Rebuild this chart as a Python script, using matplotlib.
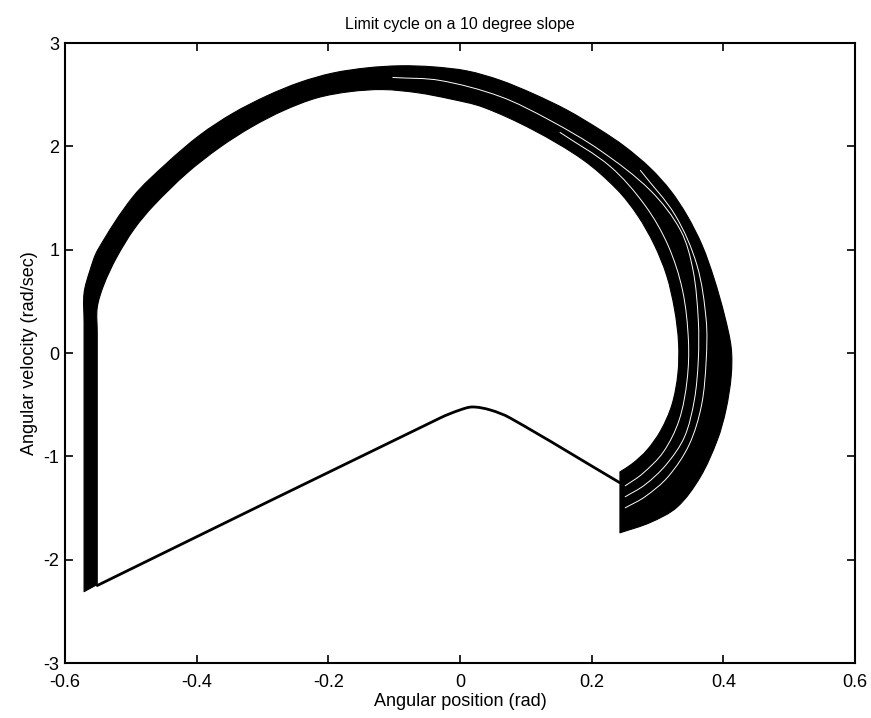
import numpy as np
import matplotlib
matplotlib.use("Agg")
import matplotlib.pyplot as plt
from matplotlib.patches import PathPatch
from matplotlib.path import Path

plt.rcParams['font.family'] = ['Liberation Sans', 'DejaVu Sans']

# Outer edge of the band of swing-phase trajectories (angle, angular velocity)
outer_theta = [-0.571, -0.571, -0.571, -0.562, -0.550, -0.497, -0.445, -0.395,
               -0.345, -0.293, -0.243, -0.193, -0.141, -0.091, -0.041, 0.011,
               0.061, 0.111, 0.163, 0.213, 0.250, 0.289, 0.320, 0.345, 0.368,
               0.386, 0.402, 0.412, 0.412, 0.404, 0.391, 0.365, 0.330, 0.289,
               0.243]
outer_omega = [-2.31, 0.30, 0.58, 0.80, 1.00, 1.51, 1.84, 2.11,
               2.32, 2.49, 2.62, 2.71, 2.76, 2.78, 2.77, 2.73,
               2.64, 2.51, 2.35, 2.16, 2.00, 1.79, 1.57, 1.33, 1.04,
               0.72, 0.36, 0.05, -0.22, -0.55, -0.84, -1.20, -1.49, -1.64,
               -1.74]

# Inner edge of the same band
inner_theta = [-0.551, -0.551, -0.551, -0.541, -0.522, -0.495, -0.465, -0.415,
               -0.365, -0.316, -0.267, -0.217, -0.167, -0.117, -0.065, -0.015,
               0.035, 0.111, 0.187, 0.239, 0.270, 0.295, 0.314, 0.326, 0.332,
               0.331, 0.322, 0.305, 0.284, 0.262, 0.243]
inner_omega = [-2.24, 0.20, 0.44, 0.66, 0.92, 1.20, 1.43, 1.74,
               1.99, 2.19, 2.35, 2.47, 2.53, 2.55, 2.52, 2.46,
               2.38, 2.16, 1.87, 1.58, 1.33, 1.05, 0.75, 0.42, 0.10,
               -0.20, -0.50, -0.75, -0.94, -1.07, -1.15]

# Gaps between neighbouring cycles inside the band
gap1_theta = [-0.102, -0.030, 0.061, 0.137, 0.213, 0.289, 0.335, 0.354, 0.362,
              0.362, 0.356, 0.341, 0.313, 0.281, 0.251]
gap1_omega = [2.667, 2.638, 2.483, 2.251, 1.961, 1.575, 1.188, 0.802, 0.319,
              -0.068, -0.454, -0.812, -1.082, -1.275, -1.391]
gap2_theta = [0.152, 0.228, 0.281, 0.316, 0.338, 0.347, 0.345, 0.333, 0.309,
              0.277, 0.251]
gap2_omega = [2.135, 1.807, 1.430, 1.043, 0.609, 0.126, -0.261, -0.647, -0.957,
              -1.169, -1.285]
gap3_theta = [0.274, 0.327, 0.360, 0.374, 0.374, 0.367, 0.348, 0.316, 0.281,
              0.251]
gap3_omega = [1.768, 1.333, 0.850, 0.319, -0.068, -0.502, -0.889, -1.198,
              -1.391, -1.498]

# Stance-phase return path (common to all cycles)
return_theta = [-0.551, -0.030, 0.000, 0.019, 0.046, 0.076, 0.243]
return_omega = [-2.25, -0.628, -0.551, -0.522, -0.551, -0.628, -1.256]

x_ticks = [-0.6, -0.4, -0.2, 0, 0.2, 0.4, 0.6]
y_ticks = [-3, -2, -1, 0, 1, 2, 3]
x_ticklabels = ['-0.6', '-0.4', '-0.2', '0', '0.2', '0.4', '0.6']
y_ticklabels = ['-3', '-2', '-1', '0', '1', '2', '3']

# Aspect weights so curve tangents are computed in screen-like proportions
SX, SY = 658.0, 103.5


def bezier_through(xs, ys):
    """Cubic Bezier segments passing through every given point."""
    p = np.column_stack([np.asarray(xs) * SX, np.asarray(ys) * SY])
    n = len(p)
    tang = np.zeros_like(p)
    for i in range(n):
        a = p[max(i - 1, 0)]
        b = p[min(i + 1, n - 1)]
        d = b - a
        tang[i] = d / (np.hypot(*d) + 1e-12)
    verts = [p[0]]
    codes = [Path.MOVETO]
    for i in range(n - 1):
        seg = np.hypot(*(p[i + 1] - p[i])) / 3.0
        verts += [p[i] + tang[i] * seg, p[i + 1] - tang[i + 1] * seg, p[i + 1]]
        codes += [Path.CURVE4] * 3
    verts = np.array(verts) / [SX, SY]
    return verts, codes


fig = plt.figure(figsize=(8.71, 7.18), dpi=100)
ax = fig.add_axes([0.0746, 0.0766, 0.907, 0.8634])

ov, oc = bezier_through(outer_theta, outer_omega)
iv, ic = bezier_through(inner_theta[::-1], inner_omega[::-1])
ic = [Path.LINETO] + ic[1:]
band_path = Path(np.vstack([ov, iv, ov[:1]]), oc + ic + [Path.CLOSEPOLY])
ax.add_patch(PathPatch(band_path, facecolor='black', edgecolor='black',
                       linewidth=0.8, joinstyle='round'))

for gx, gy in [(gap1_theta, gap1_omega), (gap2_theta, gap2_omega),
               (gap3_theta, gap3_omega)]:
    gv, gc = bezier_through(gx, gy)
    ax.add_patch(PathPatch(Path(gv, gc), facecolor='none', edgecolor='white',
                           linewidth=0.7, capstyle='round'))

rv, rc = bezier_through(return_theta, return_omega)
ax.add_patch(PathPatch(Path(rv, rc), facecolor='none', edgecolor='black',
                       linewidth=2.0, joinstyle='round', capstyle='round'))

ax.set_xlim(-0.6, 0.6)
ax.set_ylim(-3, 3)
ax.set_xticks(x_ticks)
ax.set_yticks(y_ticks)
ax.set_xticklabels(x_ticklabels)
ax.set_yticklabels(y_ticklabels)
ax.tick_params(direction='in', top=True, right=True, length=6, width=1.2,
               labelsize=13)
ax.tick_params(axis='x', pad=8)
ax.tick_params(axis='y', pad=4)
for s in ax.spines.values():
    s.set_linewidth(1.5)

ax.set_xlabel('Angular position (rad)', fontsize=13, labelpad=1)
ax.set_ylabel('Angular velocity (rad/sec)', fontsize=13, labelpad=4)
ax.set_title('Limit cycle on a 10 degree slope', fontsize=11.5, pad=10)

fig.savefig('out.png', dpi=100)
